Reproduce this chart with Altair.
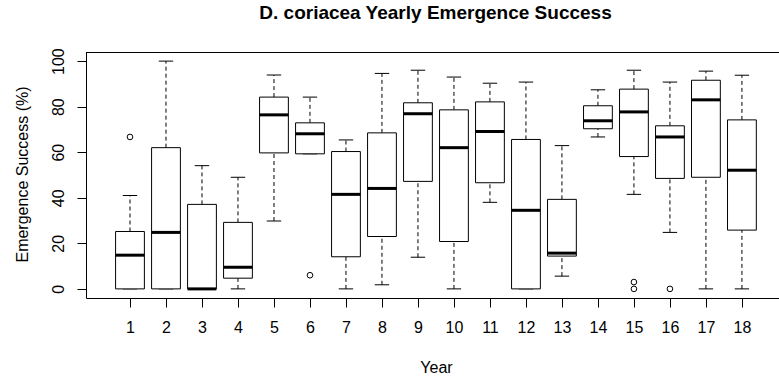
import altair as alt
import pandas as pd

# Yearly emergence success (%) summary for each nesting season
years = list(range(1, 19))
lower = [0, 0, 0, 0, 29.8, 59.3, 0, 1.8, 13.9, 0, 38.0, 0, 5.6, 66.7, 41.5, 24.8, 0, 0]
q1 = [0, 0, 0, 4.7, 59.7, 59.3, 14.1, 23.0, 47.2, 20.8, 46.6, 0, 14.4, 70.3, 58.1, 48.5, 49.0, 25.8]
median = [14.8, 24.8, 0, 9.5, 76.4, 68.1, 41.5, 44.1, 76.9, 62.0, 69.1, 34.5, 15.7, 73.8, 77.7, 66.7, 83.0, 52.1]
q3 = [25.2, 62.0, 37.1, 29.2, 84.2, 72.9, 60.3, 68.5, 81.7, 78.6, 82.1, 65.6, 39.3, 80.4, 87.7, 71.6, 91.6, 74.2]
upper = [41.0, 100, 54.1, 49.0, 93.9, 84.2, 65.4, 94.6, 96.0, 93.0, 90.3, 90.8, 62.9, 87.4, 96.0, 90.8, 95.6, 93.8]

# Outlying nests
out_year = [1, 6, 15, 15, 16]
out_value = [66.7, 6.0, 3.0, 0.0, 0.0]

x_ticks = years
y_ticks = [0, 20, 40, 60, 80, 100]

BOX_HALF = 0.4
STAPLE_HALF = 0.2
FONT = "Liberation Sans"

df = pd.DataFrame({"year": years, "lower": lower, "q1": q1, "median": median,
                   "q3": q3, "upper": upper})
df["left"] = df["year"] - BOX_HALF
df["right"] = df["year"] + BOX_HALF
df["sl"] = df["year"] - STAPLE_HALF
df["sr"] = df["year"] + STAPLE_HALF
out_df = pd.DataFrame({"year": out_year, "value": out_value})

xscale = alt.Scale(domain=[-0.222, 19.03], nice=False, zero=False)
yscale = alt.Scale(domain=[-4, 104], nice=False, zero=False)

xaxis = alt.Axis(values=x_ticks, format="d", title="Year", labelPadding=12,
                 labelFlush=False, labelOverlap=False,
                 titleX=350, titleY=74, titleAlign="center",
                 titleBaseline="alphabetic", titleFontWeight="normal")
yaxis = alt.Axis(values=y_ticks, format="d", title="Emergence Success (%)",
                 labelAngle=270, labelAlign="center", labelBaseline="alphabetic",
                 labelPadding=13.5, titleAngle=270, titleX=-58.7, titleY=122,
                 titleAlign="center", titleBaseline="alphabetic",
                 titleFontWeight="normal")

base = alt.Chart(df)

whisk_hi = base.mark_rule(color="black", strokeWidth=1, strokeDash=[4, 3]).encode(
    x=alt.X("year:Q", scale=xscale, axis=xaxis),
    y=alt.Y("q3:Q", scale=yscale, axis=yaxis),
    y2="upper:Q",
)
whisk_lo = base.mark_rule(color="black", strokeWidth=1, strokeDash=[4, 3]).encode(
    x="year:Q", y="lower:Q", y2="q1:Q"
)
staple_hi = base.mark_rule(color="black", strokeWidth=1).encode(
    x="sl:Q", x2="sr:Q", y="upper:Q"
)
staple_lo = base.mark_rule(color="black", strokeWidth=1).encode(
    x="sl:Q", x2="sr:Q", y="lower:Q"
)
boxes = base.mark_rect(fill="white", stroke="black", strokeWidth=1).encode(
    x="left:Q", x2="right:Q", y="q1:Q", y2="q3:Q"
)
medians = base.mark_rule(color="black", strokeWidth=3).encode(
    x="left:Q", x2="right:Q", y="median:Q"
)
outliers = alt.Chart(out_df).mark_point(
    shape="circle", filled=False, color="black", size=32, strokeWidth=1, opacity=1
).encode(x="year:Q", y="value:Q")

# top edge of the plot frame
frame_top = alt.Chart(df).mark_rule(color="black", strokeWidth=1).encode(
    x=alt.value(0), x2=alt.value(693), y=alt.value(0.5)
)

chart = alt.layer(
    whisk_hi, whisk_lo, staple_hi, staple_lo, boxes, medians, outliers, frame_top
).properties(
    width=693,
    height=246,
    title=alt.TitleParams(
        "D. coriacea Yearly Emergence Success",
        font=FONT, fontSize=19, fontWeight="bold", color="black",
        anchor="middle", dx=3, dy=21, baseline="alphabetic", offset=31,
    ),
    autosize=alt.AutoSizeParams(type="none"),
    padding={"left": 86, "top": 52, "right": 0, "bottom": 81},
    background="white",
).configure_view(
    stroke=None
).configure_axis(
    grid=False, labelFont=FONT, labelFontSize=16, labelColor="black",
    titleFont=FONT, titleFontSize=16, titleColor="black",
    tickColor="black", domainColor="black", tickSize=9, tickWidth=1,
    domainWidth=1,
)

chart.save("out.html", embed_options={"renderer": "svg", "actions": False})
